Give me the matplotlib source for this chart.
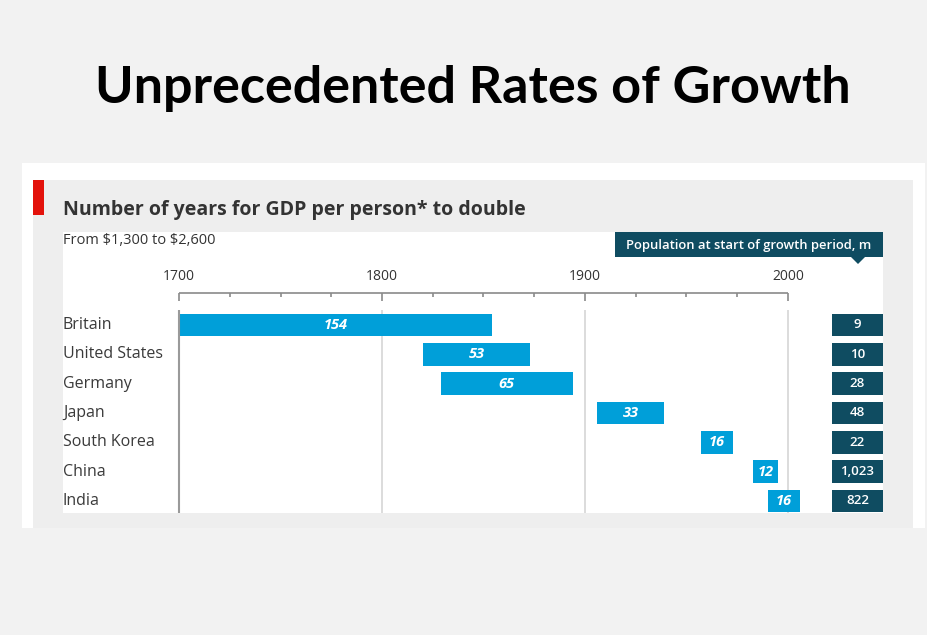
import matplotlib.pyplot as plt
from matplotlib.patches import Rectangle, Polygon
from matplotlib.transforms import blended_transform_factory

countries = ["Britain", "United States", "Germany", "Japan", "South Korea", "China", "India"]
start_year = [1700, 1820, 1829, 1906, 1957, 1983, 1990]
years_to_double = [154, 53, 65, 33, 16, 12, 16]
population = ["9", "10", "28", "48", "22", "1,023", "822"]

W, H = 928, 635
FONT = "Open Sans"
fig = plt.figure(figsize=(W / 100, H / 100), dpi=100)
fig.patch.set_facecolor("#f2f2f2")

def px(x, y):
    return x / W, 1 - y / H

def fig_rect(x0, y0, x1, y1, color):
    fx, fy = px(x0, y1)
    fig.add_artist(Rectangle((fx, fy), (x1 - x0) / W, (y1 - y0) / H,
                             transform=fig.transFigure, color=color, lw=0, zorder=0))

fig_rect(22, 163, 925, 528, "white")
fig_rect(33, 180, 913, 528, "#eeeeee")
fig_rect(63, 232, 883, 513, "white")
fig_rect(33, 180, 44, 215, "#e3120b")

fig.text(*px(473, 88), "Unprecedented Rates of Growth", ha="center", va="center",
         fontsize=37.5, fontweight="bold", family="Lato", color="black")
fig.text(*px(63, 210), "Number of years for GDP per person* to double", ha="left", va="center",
         fontsize=14, fontweight="bold", family=FONT, color="#333333")
fig.text(*px(63, 240), "From \\$1,300 to \\$2,600", ha="left", va="center",
         fontsize=10.5, family=FONT, color="#333333")

# population header
fig_rect(615, 232, 883, 257, "#0f4c61")
tri = [px(851, 257), px(865, 257), px(858, 264)]
fig.add_artist(Polygon(tri, closed=True, transform=fig.transFigure, color="#0f4c61", lw=0))
fig.text(*px(749, 245), "Population at start of growth period, m", ha="center", va="center",
         fontsize=9.4, family=FONT, fontweight="semibold", color="white")

# chart axes over white area
x0, y0 = px(63, 513)
x1, y1 = px(883, 232)
ax = fig.add_axes([x0, y0, x1 - x0, y1 - y0])
ax.set_facecolor("none")
scale = (788 - 179) / 300.0
ax.set_xlim(1700 - (179 - 63) / scale, 1700 + (883 - 179) / scale)
step = 29.33
ax.set_ylim((513 - 325) / step, (232 - 325) / step)
for s in ax.spines.values():
    s.set_visible(False)
ax.set_xticks([])
ax.set_yticks([])

ytop = (310 - 325) / step
ybot = (513 - 325) / step
ax.vlines([1800, 1900, 2000], ytop, ybot, color="#d9d9d9", lw=1.3, zorder=1)
ax.vlines([1700], ytop, ybot, color="#9a9a9a", lw=1.5, zorder=3)

# top axis with ticks
yax = (293 - 325) / step
ax.hlines(yax, 1700, 2000, color="#8a8a8a", lw=1.2)
for yr in range(1700, 2001, 25):
    major = yr % 100 == 0
    ax.vlines(yr, yax, yax + (8 if major else 4) / step, color="#8a8a8a", lw=1.2)
    if major:
        ax.text(yr, (276 - 325) / step, str(yr), ha="center", va="center",
                fontsize=10, family=FONT, color="#333333")

rows = list(range(len(countries)))
ax.barh(rows, years_to_double, left=start_year, height=0.78, color="#009fd9", zorder=2)
for i, (s, n) in enumerate(zip(start_year, years_to_double)):
    ax.text(s + n / 2, i, str(n), ha="center", va="center", color="white",
            fontsize=10.5, fontstyle="italic", fontweight="bold", family=FONT, zorder=4)

trans = blended_transform_factory(ax.transAxes, ax.transData)
bx0 = (832 - 63) / (883 - 63)
for i, (name, p) in enumerate(zip(countries, population)):
    ax.text(0, i, name, transform=trans, ha="left", va="center",
            fontsize=11.5, family=FONT, color="#3a3a3a")
    ax.add_patch(Rectangle((bx0, i - 0.39), 1 - bx0, 0.78, transform=trans,
                           color="#0f4c61", lw=0, zorder=2))
    ax.text((bx0 + 1) / 2, i, p, transform=trans, ha="center", va="center",
            fontsize=9.5, family=FONT, fontweight="semibold", color="white", zorder=4)

fig.savefig("out.png", dpi=100, facecolor=fig.get_facecolor())
